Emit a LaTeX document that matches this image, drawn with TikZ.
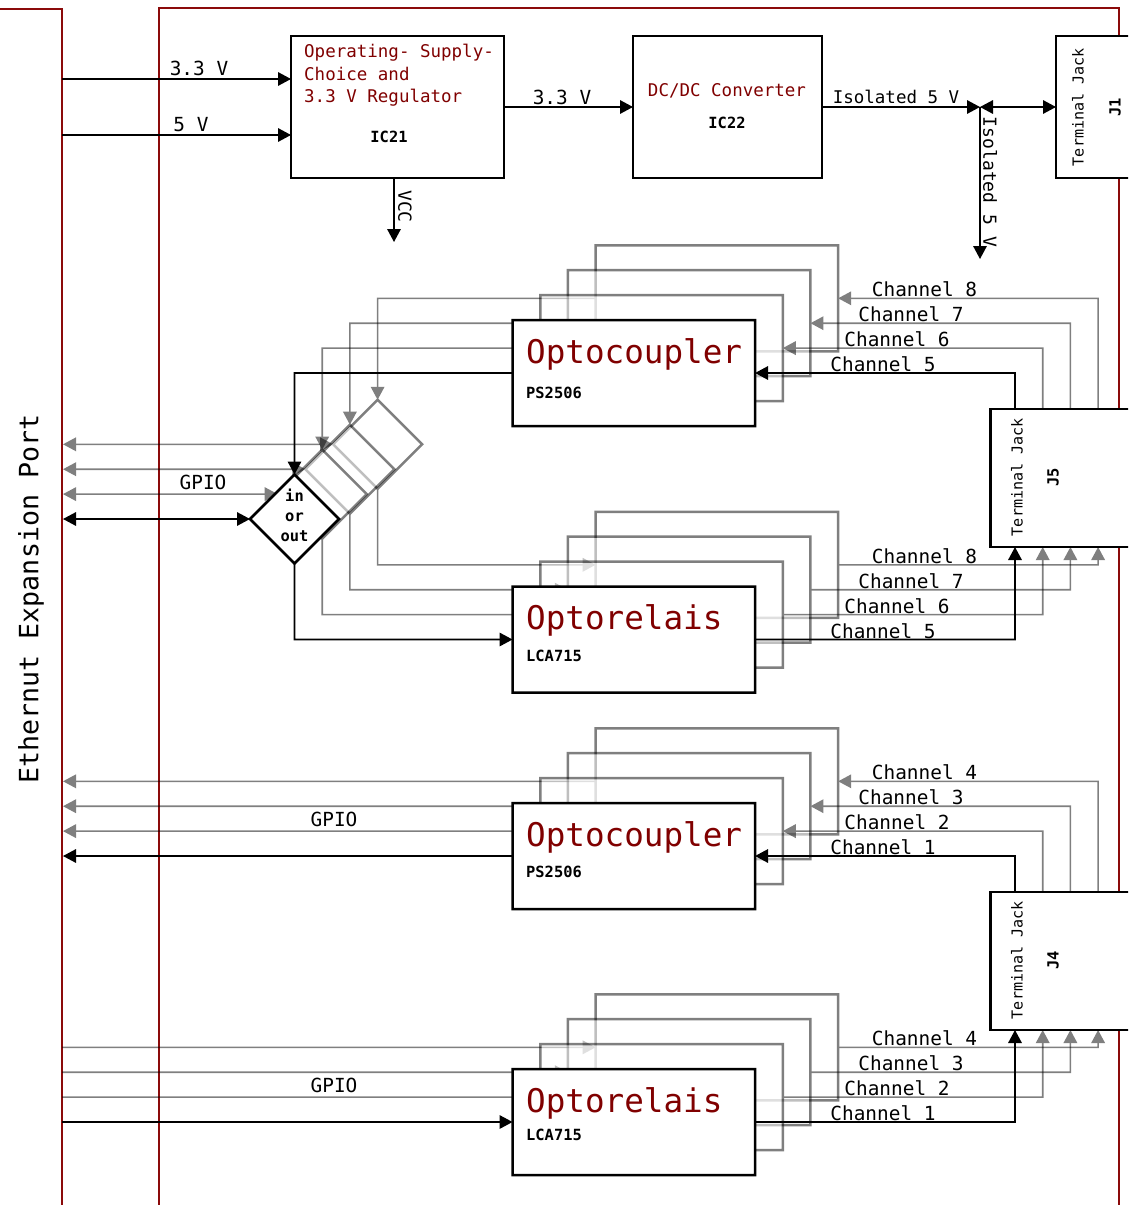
\documentclass[tikz,border=0pt]{standalone}
\usepackage{fontspec}
\setmainfont{DejaVu Sans Mono}
\usetikzlibrary{arrows.meta,shapes.geometric,calc}
\definecolor{frame}{HTML}{8B0A0A}
\definecolor{dred}{HTML}{800000}
\newcommand{\fsz}[1]{\fontsize{#1}{#1}\selectfont}
\tikzset{
  chip/.style={draw=black,line width=2.5pt,fill=white,inner sep=0pt,outer sep=0pt,minimum width=242.5pt,minimum height=106pt},
  block/.style={draw=black,line width=2.5pt,fill=white,inner sep=0pt,outer sep=0pt},
  jack/.style={block,minimum width=240pt,minimum height=138pt,anchor=north west},
  dia/.style={diamond,aspect=1,draw=black,line width=2.5pt,fill=white,inner sep=0pt,outer sep=0pt,minimum width=89pt,minimum height=89pt},
  sig/.style={line width=1.6pt,draw=black},
  to/.style={sig,-{Triangle[length=13pt,width=13.5pt]}},
  both/.style={sig,{Triangle[length=13pt,width=13.5pt]}-{Triangle[length=13pt,width=13.5pt]}},
  lab/.style={inner sep=0pt,font=\fsz{19.4}},
  vlab/.style={inner sep=0pt,font=\fsz{18},rotate=-90},
  jacklab/.style={inner sep=0pt,font=\fsz{15.1},rotate=90},
  bold/.style={inner sep=0pt,font=\fsz{15.4}\bfseries},
  redbig/.style={inner sep=0pt,font=\fsz{32.6},text=dred,anchor=west},
  redtxt/.style={inner sep=0pt,font=\fsz{17.5},text=dred},
  wall/.style={draw=frame,line width=2pt}
}
\begin{document}
\begin{tikzpicture}[x=1pt,y=-1pt]
\useasboundingbox (0,0) rectangle (1128,1205);
\clip (0,0) rectangle (1128,1205);
\fill[white] (0,0) rectangle (1128,1205);
% walls
\coordinate (wa) at (0,8.5); \coordinate (wb) at (62,8.5); \coordinate (wc) at (62,1206);
\coordinate (wd) at (159,1206); \coordinate (we) at (159,8); \coordinate (wf) at (1119,8); \coordinate (wg) at (1119,1206);
\draw[wall] (wa) -- (wb) -- (wc);
\draw[wall] (wd) -- (we) -- (wf) -- (wg);
% jacks
\node[jack,minimum height=142pt] (J1) at (1056,36) {};
\node[jack] (J5) at (990.5,409) {};
\node[jack] (J4) at (990.5,892) {};
\node[jacklab] (J1t) at (1078,107) {Terminal Jack};
\node[bold,rotate=90] (J1n) at (1115,107) {J1};
\node[jacklab] (J5t) at (1017,477) {Terminal Jack};
\node[bold,rotate=90] (J5n) at (1053,477) {J5};
\node[jacklab] (J4t) at (1017,960) {Terminal Jack};
\node[bold,rotate=90] (J4n) at (1053,960) {J4};
% supply
\node[block,minimum width=213pt,minimum height=142pt] (reg) at (397.5,107) {};
\node[block,minimum width=189pt,minimum height=142pt] (dcdc) at (727.5,107) {};
\node[redtxt,anchor=north west,align=left,font=\fontsize{17.5}{22.5}\selectfont] (regt) at (304,44) {Operating- Supply-\\Choice and\\3.3 V Regulator};
\node[bold] (ic21) at (389,137) {IC21};
\node[redtxt] (dct) at (727,91) {DC/DC Converter};
\node[bold] (ic22) at (727,123) {IC22};
\coordinate (in33) at (62,79); \coordinate (in33e) at (291,79);
\coordinate (in5) at (62,135); \coordinate (in5e) at (291,135);
\coordinate (vccs) at (394,178); \coordinate (vcce) at (394,242);
\coordinate (junc) at (980,107); \coordinate (isoe) at (980,259);
\draw[to] (in33) -- (in33e);
\draw[to] (in5) -- (in5e);
\draw[to] (reg.east) -- (dcdc.west);
\draw[to] (dcdc.east) -- (junc);
\draw[both] (junc) -- (J1.west |- junc);
\draw[to] (junc) -- (isoe);
\draw[to] (vccs) -- (vcce);
\node[lab] (l33a) at (199,68) {3.3 V};
\node[lab] (l5) at (191,125) {5 V};
\node[lab] (l33b) at (562,97) {3.3 V};
\node[redtxt,text=black] (liso) at (896,97) {Isolated 5 V};
\node[vlab] (liso2) at (990,182) {Isolated 5 V};
\node[vlab] (lvcc) at (405,206.5) {VCC};
% channel layers, back to front
\foreach \k in {3,2,1,0}{
  \pgfmathsetmacro\X{27.7*\k}
  \pgfmathsetmacro\Y{24.9*\k}
  \pgfmathsetmacro\op{\k>0 ? 0.5 : 1}
  \begin{scope}[transparency group,opacity=\op]
    % J5 group
    \node[chip] (oa\k) at ({633.8+\X},{373-\Y}) {};
    \node[chip] (ra\k) at ({633.8+\X},{639.5-\Y}) {};
    \node[dia] (d\k) at ({294.5+\X},{519-\Y}) {};
    \coordinate (ja\k) at ({1015+\X},409);
    \coordinate (jb\k) at ({1015+\X},547);
    \coordinate (pa\k) at (63,{519-\Y});
    \draw[to] (oa\k.west) -| (d\k.north);
    \draw[to] (d\k.south) |- (ra\k.west);
    \draw[both] (pa\k) -- (d\k.west);
    \draw[to] (ja\k) |- (oa\k.east);
    \draw[to] (ra\k.east) -| (jb\k);
    % J4 group
    \node[chip] (ob\k) at ({633.8+\X},{856-\Y}) {};
    \node[chip] (rb\k) at ({633.8+\X},{1122-\Y}) {};
    \coordinate (jc\k) at ({1015+\X},892);
    \coordinate (jd\k) at ({1015+\X},1030);
    \coordinate (pb\k) at (63,{856-\Y});
    \coordinate (pc\k) at (62,{1122-\Y});
    \draw[to] (ob\k.west) -- (pb\k);
    \draw[to] (pc\k) -- (rb\k.west);
    \draw[to] (jc\k) |- (ob\k.east);
    \draw[to] (rb\k.east) -| (jd\k);
  \end{scope}
}
% front texts
\node[inner sep=0pt,align=center,font=\fontsize{15.4}{20}\selectfont\bfseries] (dt) at (294.5,515.5) {in\\or\\out};
\node[redbig] (t1) at (526,354) {Optocoupler};
\node[bold,anchor=west] (n1) at (526,393) {PS2506};
\node[redbig] (t2) at (526,620.5) {Optorelais};
\node[bold,anchor=west] (n2) at (526,655.5) {LCA715};
\node[redbig] (t3) at (526,837) {Optocoupler};
\node[bold,anchor=west] (n3) at (526,872) {PS2506};
\node[redbig] (t4) at (526,1103) {Optorelais};
\node[bold,anchor=west] (n4) at (526,1135) {LCA715};
% labels
\node[lab] (g1) at (203,482) {GPIO};
\node[lab] (g2) at (334,819) {GPIO};
\node[lab] (g3) at (334,1085) {GPIO};
\node[inner sep=0pt,font=\fsz{26.6},rotate=90] (eth) at (31,599) {Ethernut Expansion Port};
\node[lab] (c5a) at (883,364.5) {Channel 5};
\node[lab] (c6a) at (897,339.5) {Channel 6};
\node[lab] (c7a) at (911,314.5) {Channel 7};
\node[lab] (c8a) at (924.5,289.5) {Channel 8};
\node[lab] (c5b) at (883,631) {Channel 5};
\node[lab] (c6b) at (897,606) {Channel 6};
\node[lab] (c7b) at (911,581) {Channel 7};
\node[lab] (c8b) at (924.5,556) {Channel 8};
\node[lab] (c1a) at (883,847.5) {Channel 1};
\node[lab] (c2a) at (897,822.5) {Channel 2};
\node[lab] (c3a) at (911,797.5) {Channel 3};
\node[lab] (c4a) at (924.5,772.5) {Channel 4};
\node[lab] (c1b) at (883,1113) {Channel 1};
\node[lab] (c2b) at (897,1088) {Channel 2};
\node[lab] (c3b) at (911,1063) {Channel 3};
\node[lab] (c4b) at (924.5,1038) {Channel 4};
\end{tikzpicture}
\end{document}
